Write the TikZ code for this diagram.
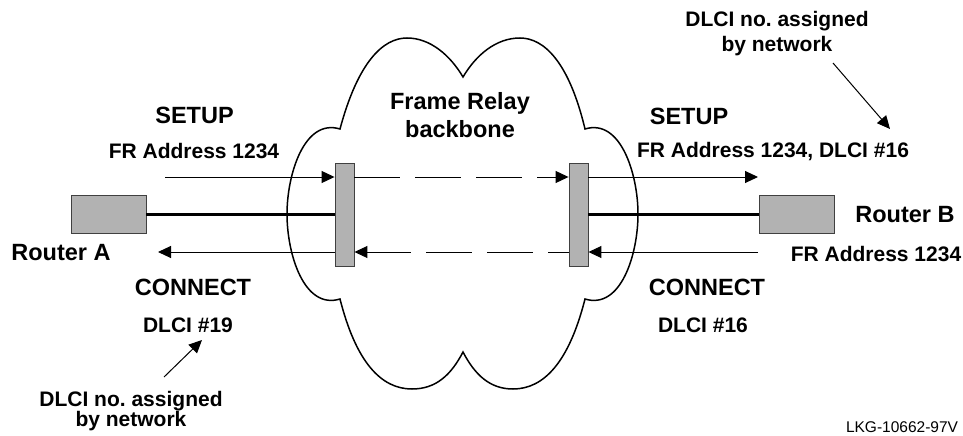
\documentclass[tikz,border=0pt]{standalone}
\usepackage{fontspec}
\setmainfont{Liberation Sans}
\usetikzlibrary{arrows.meta}
\frenchspacing

\tikzset{
    box/.style = {draw = black!75, fill = gray!60, line width = 0.9pt, inner sep = 0pt},
    msg/.style = {line width = 1pt, -{Triangle[length = 13pt, width = 12pt]}},
    link/.style = {line width = 3pt},
    gap/.style = {dash pattern = on 46pt off 15pt},
    big/.style = {font = \bfseries\fontsize{23.5}{28}\selectfont, anchor = base, inner sep = 0pt},
    small/.style = {font = \bfseries\fontsize{21}{25}\selectfont, anchor = base, inner sep = 0pt}
}

\begin{document}
\begin{tikzpicture}[x = 1pt, y = -1pt]
        \useasboundingbox (0,0) rectangle (963,436);
        \draw[line width = 1.5pt]
            (340,129) .. controls (358,62) and (383,38) .. (407,38)
            .. controls (430,38) and (450,55) .. (463,77)
            .. controls (476,55) and (496,38) .. (520,38)
            .. controls (544,38) and (569,62) .. (585,129)
            .. controls (621,118) and (638,175) .. (638,214)
            .. controls (638,254) and (621,310) .. (585,299)
            .. controls (569,362) and (544,389) .. (513,389)
            .. controls (490,389) and (475,375) .. (463,352)
            .. controls (451,375) and (436,389) .. (412,389)
            .. controls (381,389) and (356,362) .. (340,299)
            .. controls (304,310) and (287,254) .. (287,214)
            .. controls (287,175) and (304,118) .. (340,129) -- cycle;
        \node[box, minimum width = 75pt, minimum height = 38pt] (routerA) at (108.5,214) {};
        \node[box, minimum width = 75pt, minimum height = 38pt] (routerB) at (796.5,214) {};
        \node[box, minimum width = 19pt, minimum height = 103pt] (barL) at (344.5,214.5) {};
        \node[box, minimum width = 19pt, minimum height = 103pt] (barR) at (578.5,214.5) {};
        \coordinate (setupA) at (165,177);
        \coordinate (setupB) at (758,177);
        \coordinate (connB) at (758,252);
        \coordinate (connA) at (158,252);
        \coordinate (tailB) at (833,63);
        \coordinate (tipB) at (890,129);
        \coordinate (tailA) at (164,377);
        \coordinate (tipA) at (202,340);
        \draw[link] (routerA.east) -- (routerA.east -| barL.west);
        \draw[link] (routerB.west -| barR.east) -- (routerB.west);
        \draw[msg] (setupA) -- (setupA -| barL.west);
        \draw[msg, gap] (setupA -| barL.east) -- (setupA -| barR.west);
        \draw[msg] (setupA -| barR.east) -- (setupB);
        \draw[msg] (connB) -- (connB -| barR.east);
        \draw[msg, gap, dash phase = 25pt] (connB -| barR.west) -- (connB -| barL.east);
        \draw[msg] (connB -| barL.west) -- (connA);
        \draw[msg] (tailB) -- (tipB);
        \draw[msg] (tailA) -- (tipA);
        \node[big] (setupL) at (194.5,123) {SETUP};
        \node[small] (addrL) at (194,158) {FR Address 1234};
        \node[big] (frame) at (460,109) {Frame Relay};
        \node[big] (backbone) at (460,137) {backbone};
        \node[big] (setupR) at (689,124) {SETUP};
        \node[small] (addrR) at (773,157) {FR Address 1234, DLCI \#16};
        \node[small] (noteB) at (777,27) {DLCI no. assigned};
        \node[small] (noteBb) at (777,52) {by network};
        \node[big] (nameA) at (61,260) {Router A};
        \node[big] (nameB) at (905,222) {Router B};
        \node[small] (addrB) at (876,261) {FR Address 1234};
        \node[big] (connL) at (193,295) {CONNECT};
        \node[small] (dlciL) at (188,332) {DLCI \#19};
        \node[big] (connR) at (707,295) {CONNECT};
        \node[small] (dlciR) at (703,332) {DLCI \#16};
        \node[small] (noteA) at (131,406) {DLCI no. assigned};
        \node[small] (noteAb) at (131,426) {by network};
        \node[font = \fontsize{15.5}{18}\selectfont, anchor = base, inner sep = 0pt] (figid) at (902,432) {LKG-10662-97V};
    \end{tikzpicture}
\end{document}
